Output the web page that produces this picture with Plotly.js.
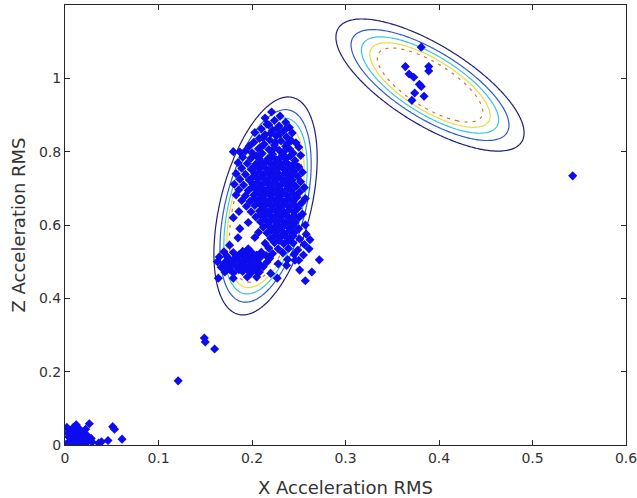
<!DOCTYPE html>
<html>
<head>
<meta charset="utf-8">
<script src="https://cdn.plot.ly/plotly-3.0.1.min.js"></script>
<style>html,body{margin:0;padding:0;background:#fff;}#chart{width:637px;height:498px;}</style>
</head>
<body>
<div id="chart"></div>
<script>
// ---- data ----
const xTicks = [0, 0.1, 0.2, 0.3, 0.4, 0.5, 0.6];
const xTickLabels = ['0', '0.1', '0.2', '0.3', '0.4', '0.5', '0.6'];
const yTicks = [0, 0.2, 0.4, 0.6, 0.8, 1];
const yTickLabels = ['0', '0.2', '0.4', '0.6', '0.8', '1'];

// Gaussian mixture components (fitted model drawn as contours)
const compMeanX = [0.2145, 0.3904];
const compMeanY = [0.652, 0.9817];
const compVarX = [0.000482, 0.002154];
const compVarY = [0.01398, 0.006908];
const compCov = [0.001141, -0.002793];
const compWeight = [0.69, 0.35];
const contourLevels = [2, 4, 6, 8, 10];
const contourColors = ['#1f1f78', '#2c5cc2', '#3cc3dc', '#e4de48', '#de6c2c'];

// scatter points
const clusterA = [
[0.221,0.908],[0.230,0.897],[0.214,0.892],[0.224,0.885],[0.236,0.880],[0.218,0.873],[0.229,0.870],[0.240,0.866],[0.210,0.862],[0.222,0.858],[0.233,0.855],[0.243,0.851],[0.203,0.852],[0.214,0.846],[0.226,0.843],[0.237,0.840],[0.208,0.836],[0.219,0.832],[0.231,0.829],[0.242,0.830],[0.247,0.824],[0.202,0.826],[0.213,0.820],[0.224,0.818],[0.236,0.815],[0.197,0.815],[0.207,0.808],[0.218,0.806],[0.229,0.804],[0.240,0.808],[0.250,0.812],
[0.180,0.800],[0.187,0.799],[0.193,0.802],[0.200,0.797],[0.211,0.795],[0.222,0.793],[0.233,0.792],[0.244,0.796],[0.252,0.790],
[0.190,0.785],[0.199,0.782],[0.208,0.780],[0.217,0.781],[0.226,0.778],[0.236,0.780],[0.246,0.776],
[0.185,0.770],[0.195,0.768],[0.204,0.766],[0.213,0.768],[0.222,0.764],[0.231,0.766],[0.240,0.763],[0.250,0.758],
[0.189,0.755],[0.199,0.752],[0.208,0.754],[0.217,0.750],[0.227,0.752],[0.236,0.749],[0.245,0.747],[0.254,0.744],
[0.183,0.740],[0.193,0.738],[0.203,0.740],[0.212,0.737],[0.221,0.738],[0.230,0.735],[0.240,0.736],[0.249,0.732],
[0.187,0.725],[0.197,0.723],[0.206,0.726],[0.215,0.722],[0.225,0.724],[0.234,0.721],[0.243,0.722],[0.252,0.718],
[0.181,0.711],[0.191,0.709],[0.201,0.711],[0.210,0.708],[0.219,0.710],[0.228,0.707],[0.238,0.708],[0.247,0.705],[0.256,0.702],
[0.186,0.696],[0.196,0.694],[0.205,0.697],[0.214,0.693],[0.223,0.695],[0.232,0.692],[0.242,0.694],[0.251,0.690],
[0.183,0.682],[0.193,0.680],[0.202,0.682],[0.211,0.679],[0.220,0.681],[0.229,0.678],[0.238,0.680],[0.248,0.676],[0.257,0.672],
[0.189,0.667],[0.198,0.665],[0.207,0.668],[0.216,0.664],[0.225,0.666],[0.235,0.663],[0.244,0.665],[0.253,0.660],
[0.194,0.651],[0.203,0.653],[0.212,0.650],[0.221,0.652],[0.230,0.649],[0.240,0.650],[0.249,0.646],
[0.186,0.637],[0.199,0.636],[0.208,0.638],[0.217,0.635],[0.226,0.637],[0.235,0.634],[0.245,0.635],[0.254,0.630],
[0.204,0.622],[0.213,0.624],[0.222,0.620],[0.231,0.622],[0.240,0.619],[0.250,0.620],[0.180,0.620],
[0.196,0.607],[0.209,0.609],[0.218,0.606],[0.227,0.608],[0.236,0.605],[0.246,0.606],[0.257,0.600],
[0.212,0.594],[0.221,0.592],[0.230,0.594],[0.240,0.591],[0.250,0.590],[0.187,0.590],
[0.207,0.580],[0.216,0.578],[0.226,0.580],[0.235,0.577],[0.245,0.579],[0.258,0.575],
[0.203,0.566],[0.185,0.565],[0.220,0.564],[0.230,0.566],[0.240,0.563],[0.251,0.562],[0.262,0.560],
[0.176,0.545],[0.214,0.550],[0.224,0.552],[0.234,0.549],[0.244,0.551],[0.256,0.547],
[0.196,0.535],[0.218,0.537],[0.228,0.535],[0.239,0.536],[0.249,0.532],[0.261,0.535],
[0.170,0.527],[0.180,0.525],[0.190,0.528],[0.200,0.524],[0.210,0.526],[0.222,0.522],[0.233,0.524],[0.245,0.520],[0.255,0.518],
[0.165,0.513],[0.173,0.515],[0.182,0.511],[0.191,0.514],[0.200,0.510],[0.209,0.512],[0.219,0.509],[0.238,0.506],[0.250,0.504],
[0.163,0.500],[0.171,0.498],[0.180,0.501],[0.189,0.497],[0.198,0.500],[0.207,0.496],[0.216,0.499],[0.228,0.494],[0.246,0.504],
[0.167,0.485],[0.176,0.487],[0.185,0.484],[0.194,0.486],[0.203,0.483],[0.212,0.486],[0.237,0.490],[0.251,0.477],
[0.171,0.472],[0.180,0.470],[0.190,0.473],[0.199,0.469],[0.208,0.472],[0.220,0.468],[0.264,0.472],
[0.164,0.455],[0.180,0.455],[0.195,0.458],[0.205,0.458],[0.227,0.455],[0.257,0.448],[0.272,0.505]
];
const clusterACore = [
[0.216,0.875],[0.227,0.864],[0.236,0.862],[0.220,0.850],[0.230,0.848],[0.212,0.838],[0.225,0.826],[0.238,0.822],[0.210,0.813],[0.224,0.810],[0.234,0.800],
[0.205,0.788],[0.221,0.786],[0.231,0.785],[0.241,0.788],[0.209,0.773],[0.218,0.772],[0.227,0.771],[0.236,0.772],[0.245,0.767],
[0.203,0.760],[0.213,0.759],[0.222,0.757],[0.232,0.758],[0.241,0.755],[0.208,0.745],[0.217,0.744],[0.226,0.745],[0.235,0.742],[0.244,0.740],
[0.201,0.731],[0.211,0.730],[0.220,0.731],[0.229,0.729],[0.239,0.728],[0.206,0.717],[0.215,0.716],[0.224,0.717],[0.233,0.714],[0.243,0.714],
[0.200,0.703],[0.210,0.701],[0.219,0.702],[0.229,0.700],[0.238,0.700],[0.207,0.688],[0.216,0.687],[0.225,0.688],[0.234,0.686],[0.244,0.685],
[0.203,0.673],[0.212,0.672],[0.221,0.673],[0.230,0.671],[0.240,0.671],[0.208,0.659],[0.217,0.658],[0.226,0.659],[0.235,0.657],[0.245,0.656],
[0.213,0.643],[0.222,0.644],[0.231,0.642],[0.240,0.642],[0.209,0.629],[0.218,0.629],[0.227,0.629],[0.236,0.628],[0.245,0.626],
[0.214,0.614],[0.223,0.614],[0.232,0.613],[0.241,0.612],[0.217,0.600],[0.226,0.599],[0.235,0.600],[0.244,0.598],
[0.221,0.586],[0.231,0.586],[0.240,0.584],[0.225,0.572],[0.235,0.571],[0.244,0.570],[0.229,0.558],[0.239,0.557],
[0.176,0.506],[0.185,0.506],[0.194,0.505],[0.203,0.505],[0.172,0.492],[0.181,0.492],[0.190,0.491],[0.199,0.491],[0.208,0.490],
[0.176,0.479],[0.186,0.478],[0.195,0.478],[0.204,0.477],[0.186,0.519],[0.195,0.519],[0.205,0.518],[0.215,0.517]
];
const clusterB = [
[0.381,1.085],[0.364,1.032],[0.389,1.032],[0.368,1.012],[0.373,1.003],[0.389,1.020],
[0.379,0.984],[0.381,0.978],[0.374,0.960],[0.384,0.951],[0.371,0.940]
];
const middlePoints = [[0.149,0.292],[0.150,0.281],[0.160,0.262],[0.121,0.175],[0.543,0.734]];
const clusterOrigin = [
[0.003,0.005],[0.006,0.012],[0.004,0.022],[0.008,0.030],[0.005,0.040],[0.009,0.048],[0.012,0.055],[0.015,0.045],
[0.011,0.038],[0.014,0.028],[0.018,0.020],[0.010,0.018],[0.013,0.008],[0.020,0.010],[0.016,0.003],[0.022,0.004],
[0.025,0.012],[0.020,0.035],[0.024,0.025],[0.026,0.058],[0.022,0.043],[0.028,0.018],[0.003,0.033],[0.001,0.002],
[0.007,0.002],[0.036,0.005],[0.039,0.009],[0.046,0.012],[0.051,0.050],[0.053,0.043],[0.061,0.016],[0.017,0.015],
[0.029,0.008],[0.002,0.048],[0.012,0.001]
];

// ---- build model surface from component parameters ----
const gx = [], gy = [];
for (let i = 0; i <= 300; i++) gx.push(i * 0.002);
for (let j = 0; j <= 300; j++) gy.push(j * 0.004);
const gz = gy.map(function (yv) {
  return gx.map(function (xv) {
    let s = 0;
    for (let k = 0; k < compWeight.length; k++) {
      const a = compVarX[k], d = compVarY[k], b = compCov[k];
      const det = a * d - b * b;
      const dx = xv - compMeanX[k], dy = yv - compMeanY[k];
      const m = (d * dx * dx - 2 * b * dx * dy + a * dy * dy) / det;
      s += compWeight[k] * Math.exp(-0.5 * m) / (2 * Math.PI * Math.sqrt(det));
    }
    return s;
  });
});

const traces = [];
contourLevels.forEach(function (lv, i) {
  traces.push({
    type: 'contour', x: gx, y: gy, z: gz,
    autocontour: false,
    contours: {start: lv, end: lv, size: 1, coloring: 'none'},
    line: {color: contourColors[i], width: 1.2, dash: i === contourLevels.length - 1 ? '3px,5px' : 'solid', smoothing: 1},
    showscale: false, hoverinfo: 'skip'
  });
});

const allPts = clusterA.concat(clusterACore, clusterB, middlePoints, clusterOrigin);
traces.push({
  type: 'scatter', mode: 'markers',
  x: allPts.map(function (p) { return p[0]; }),
  y: allPts.map(function (p) { return p[1]; }),
  marker: {symbol: 'diamond', size: 7, color: '#0c0cee', line: {width: 0}},
  hoverinfo: 'skip'
});

const fontFam = 'DejaVu Sans, Verdana, sans-serif';
const tickFont = {family: fontFam, size: 14, color: '#333333'};
const titleFont = {family: fontFam, size: 18, color: '#333333'};
const layout = {
  width: 637, height: 498,
  margin: {l: 65, r: 11, t: 5, b: 53},
  paper_bgcolor: '#fff', plot_bgcolor: '#fff',
  showlegend: false,
  xaxis: {
    range: [0, 0.6], tickvals: xTicks, ticktext: xTickLabels,
    ticks: 'inside', ticklen: 5, tickcolor: '#262626',
    showline: true, linecolor: '#262626', linewidth: 1, mirror: 'ticks',
    showgrid: false, zeroline: false, tickfont: tickFont,
    ticklabeloverflow: 'allow',
    title: {text: 'X Acceleration RMS', font: titleFont, standoff: 16}
  },
  yaxis: {
    range: [0, 1.2], tickvals: yTicks, ticktext: yTickLabels,
    ticks: 'inside', ticklen: 5, tickcolor: '#262626',
    showline: true, linecolor: '#262626', linewidth: 1, mirror: 'ticks',
    showgrid: false, zeroline: false, tickfont: tickFont,
    ticklabeloverflow: 'allow',
    title: {text: 'Z Acceleration RMS', font: titleFont, standoff: 8}
  }
};
Plotly.newPlot('chart', traces, layout, {displayModeBar: false, staticPlot: true});
</script>
</body>
</html>
